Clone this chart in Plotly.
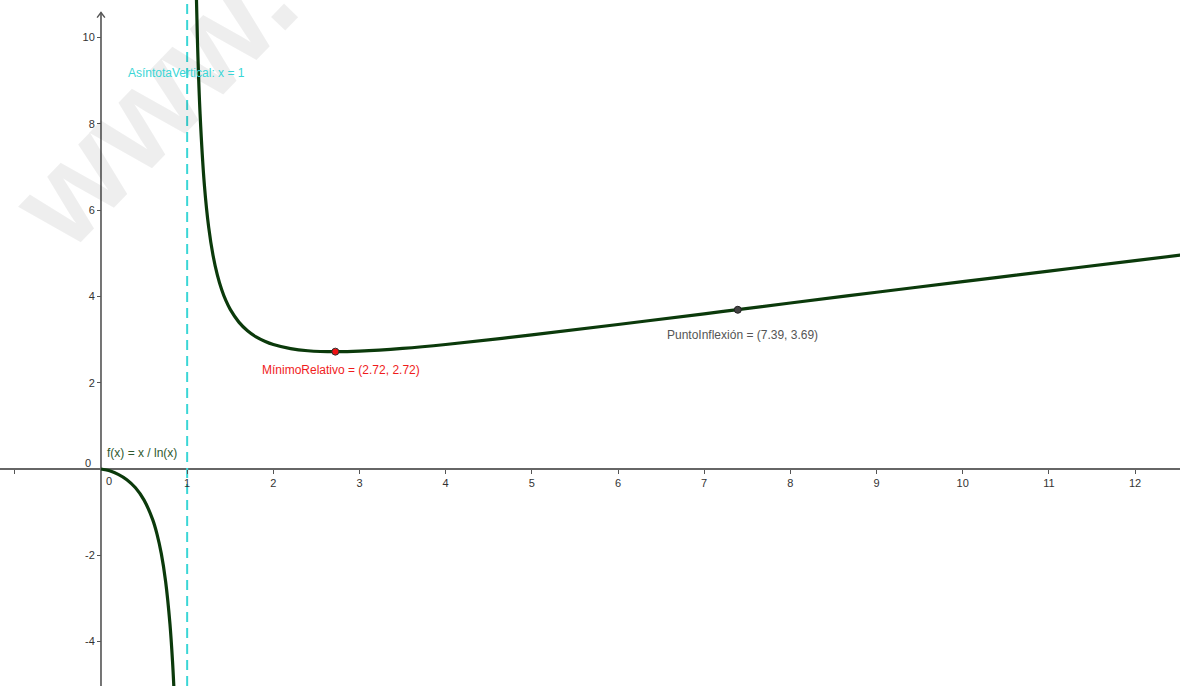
import plotly.graph_objects as go

# Right branch of f(x) = x / ln(x)
right_x = [1.10, 1.12, 1.15, 1.20, 1.25, 1.30, 1.35, 1.40, 1.45, 1.50, 1.60, 1.70, 1.80, 1.90, 2.00,
           2.20, 2.40, 2.72, 3.00, 3.50, 4.00, 5.00, 6.00, 7.00, 7.39, 8.00, 9.00, 10.00, 11.00, 12.00, 12.60]
right_y = [11.54, 9.88, 8.23, 6.58, 5.60, 4.955, 4.50, 4.161, 3.90, 3.699, 3.404, 3.204, 3.062, 2.961, 2.885,
           2.790, 2.741, 2.718, 2.731, 2.794, 2.885, 3.107, 3.349, 3.597, 3.695, 3.847, 4.096, 4.343, 4.587, 4.829, 4.973]
# Left branch
left_x = [0.0, 0.05, 0.10, 0.20, 0.30, 0.40, 0.50, 0.60, 0.65, 0.70, 0.75, 0.80, 0.83, 0.85]
left_y = [0.0, -0.0167, -0.0434, -0.1243, -0.2492, -0.4365, -0.7213, -1.1746, -1.5089, -1.9626, -2.607, -3.585, -4.454, -5.230]

min_point = (2.72, 2.72)
inflex_point = (7.39, 3.69)
asymptote_x = 1

x_ticks = [-1, 1, 2, 3, 4, 5, 6, 7, 8, 9, 10, 11, 12]
x_ticktext = ["", "1", "2", "3", "4", "5", "6", "7", "8", "9", "10", "11", "12"]
y_ticks = [-4, -2, 2, 4, 6, 8, 10]
y_ticktext = ["-4", "-2", "2", "4", "6", "8", "10"]

X_RANGE = [-1.172, 12.522]
Y_RANGE = [-5.03, 10.87]

CURVE = "#0b3a0b"
CYAN = "#3ad6d6"
FONT = "Liberation Sans, Arial, sans-serif"

fig = go.Figure()

fig.add_trace(go.Scatter(x=right_x, y=right_y, mode="lines",
                         line=dict(color=CURVE, width=3.2, shape="spline"), hoverinfo="skip"))
fig.add_trace(go.Scatter(x=left_x, y=left_y, mode="lines",
                         line=dict(color=CURVE, width=3.2, shape="spline"), hoverinfo="skip"))
fig.add_trace(go.Scatter(x=[min_point[0]], y=[min_point[1]], mode="markers",
                         marker=dict(color="#ee1111", size=7, line=dict(color="#333333", width=1))))
fig.add_trace(go.Scatter(x=[inflex_point[0]], y=[inflex_point[1]], mode="markers",
                         marker=dict(color="#444444", size=7, line=dict(color="#222222", width=1))))

shapes = [
    # x axis line
    dict(type="line", xref="x", yref="y", x0=X_RANGE[0], x1=X_RANGE[1], y0=0, y1=0,
         line=dict(color="#666666", width=1.8), layer="below"),
    # y axis line
    dict(type="line", xref="x", yref="y", x0=0, x1=0, y0=Y_RANGE[0], y1=10.58,
         line=dict(color="#666666", width=1.8), layer="below"),
    # arrowhead
    dict(type="path", xref="x", yref="y", path="M -0.045,10.46 L 0,10.58 L 0.045,10.46",
         line=dict(color="#555555", width=1.4), layer="below"),
    # vertical asymptote
    dict(type="line", xref="x", yref="y", x0=asymptote_x, x1=asymptote_x, y0=Y_RANGE[0], y1=Y_RANGE[1],
         line=dict(color=CYAN, width=2, dash="10px,6px"), layer="below"),
]

annotations = [
    dict(text="<b>www.</b>", x=0.130, y=0.852, xref="paper", yref="paper", showarrow=False,
         textangle=-46, font=dict(family=FONT, size=132, color="rgba(0,0,0,0.068)"),
         xanchor="center", yanchor="middle"),
    dict(text="AsíntotaVertical: x = 1", x=0.29, y=9.18, xref="x", yref="y", showarrow=False,
         xanchor="left", yanchor="middle", font=dict(family=FONT, size=12, color=CYAN)),
    dict(text="MínimoRelativo = (2.72, 2.72)", x=1.845, y=2.29, xref="x", yref="y", showarrow=False,
         xanchor="left", yanchor="middle", font=dict(family=FONT, size=12, color="#f01c1c")),
    dict(text="PuntoInflexión = (7.39, 3.69)", x=6.545, y=3.105, xref="x", yref="y", showarrow=False,
         xanchor="left", yanchor="middle", font=dict(family=FONT, size=12, color="#555555")),
    dict(text="f(x) = x / ln(x)", x=0.046, y=0.37, xref="x", yref="y", showarrow=False,
         xanchor="left", yanchor="middle", font=dict(family=FONT, size=12, color="#2f5a2f")),
    dict(text="0", x=0.093, y=-0.28, xref="x", yref="y", showarrow=False,
         xanchor="center", yanchor="middle", font=dict(family=FONT, size=11, color="#333333")),
    dict(text="0", x=-0.15, y=0.14, xref="x", yref="y", showarrow=False,
         xanchor="center", yanchor="middle", font=dict(family=FONT, size=11, color="#333333")),
]

fig.update_layout(
    width=1180, height=686,
    margin=dict(l=0, r=0, t=0, b=0),
    paper_bgcolor="white", plot_bgcolor="white",
    showlegend=False,
    shapes=shapes, annotations=annotations,
    xaxis=dict(range=X_RANGE, showgrid=False, zeroline=False, showline=False,
               anchor="free", position=(0 - Y_RANGE[0]) / (Y_RANGE[1] - Y_RANGE[0]),
               side="bottom", ticks="outside", ticklen=4, tickwidth=1, tickcolor="#555555",
               tickvals=x_ticks, ticktext=x_ticktext,
               tickfont=dict(family=FONT, size=11, color="#333333"), fixedrange=True),
    yaxis=dict(range=Y_RANGE, showgrid=False, zeroline=False, showline=False,
               anchor="free", position=(0 - X_RANGE[0]) / (X_RANGE[1] - X_RANGE[0]),
               side="left", ticks="outside", ticklen=4, tickwidth=1, tickcolor="#555555",
               tickvals=y_ticks, ticktext=y_ticktext,
               tickfont=dict(family=FONT, size=11, color="#333333"), fixedrange=True),
)

fig.write_html("out.html", config={"displayModeBar": False},
               post_script="document.body.style.margin='0';document.body.style.overflow='hidden';")
